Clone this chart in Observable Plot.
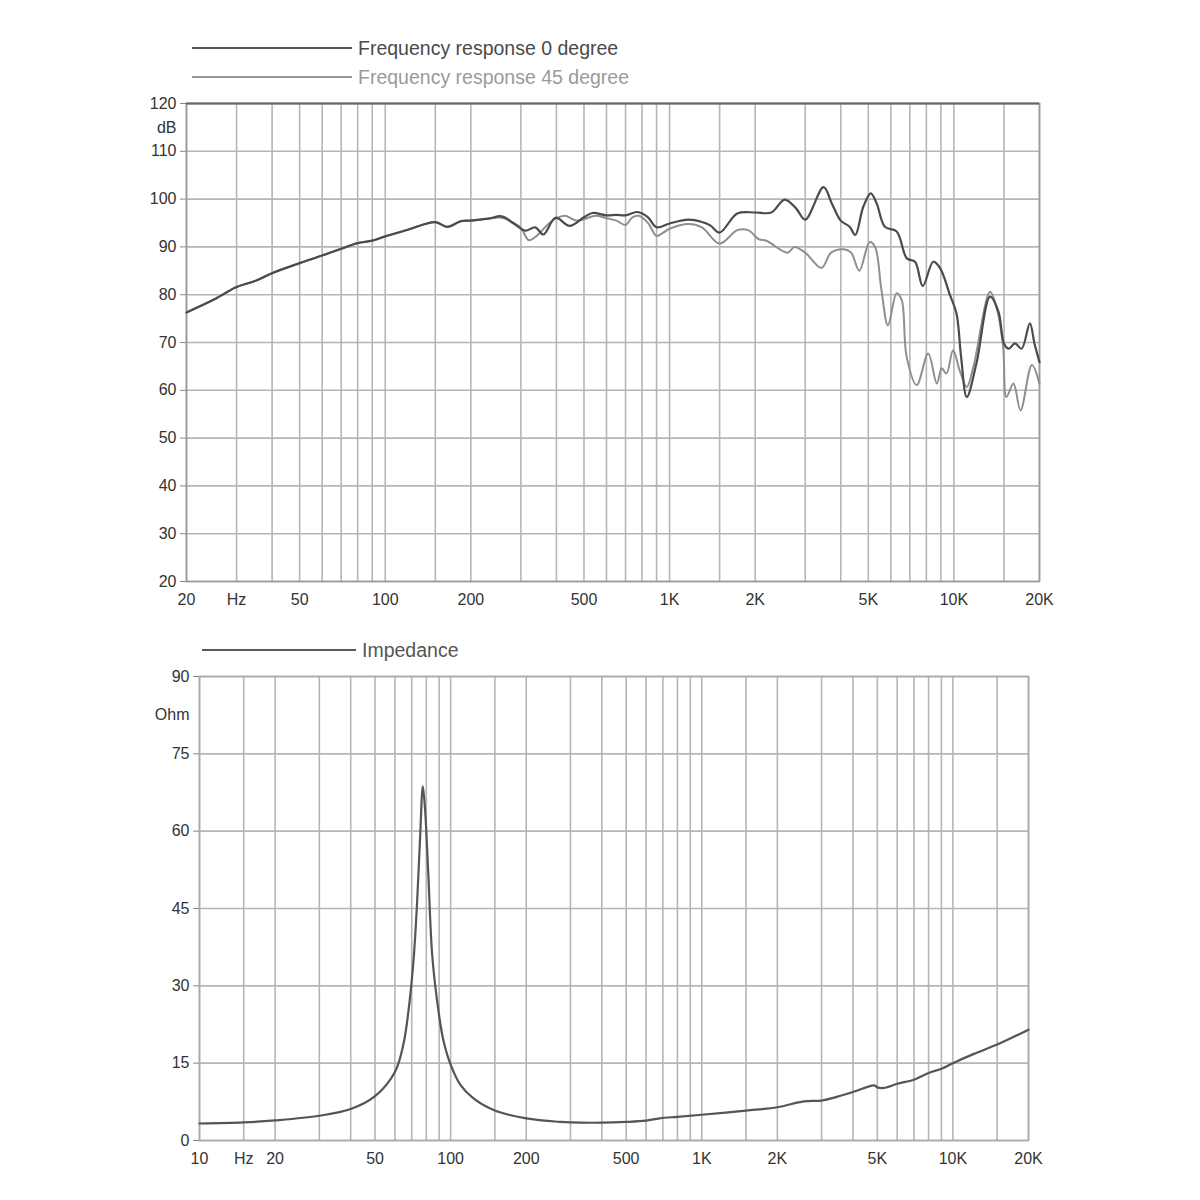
<!DOCTYPE html>
<html>
<head>
<meta charset="utf-8">
<script src="https://cdn.jsdelivr.net/npm/d3@7"></script>
<script src="https://cdn.jsdelivr.net/npm/@observablehq/plot@0.6"></script>
<style>
  html, body { margin: 0; padding: 0; background: #fff; }
  body { font-family: "Liberation Sans", Arial, Helvetica, sans-serif; }
  #page { position: relative; width: 1200px; height: 1200px; overflow: hidden; }
  .legend { position: absolute; display: flex; align-items: center; height: 24px; font-size: 19.5px; white-space: nowrap; }
  .legend .sw { display: inline-block; height: 0; border-top: 2.6px solid; margin-right: 6px; }
  .chart { position: absolute; left: 0; }
</style>
</head>
<body>
<div id="page">
  <div class="legend" style="left:192px; top:36px; color:#4a4a4a;"><span class="sw" style="width:160px; border-color:#555;"></span>Frequency response 0 degree</div>
  <div class="legend" style="left:192px; top:65px; color:#9a9a9a;"><span class="sw" style="width:160px; border-color:#999;"></span>Frequency response 45 degree</div>
  <div class="chart" id="top" style="top:95px;"></div>
  <div class="legend" style="left:202px; top:638px; color:#555;"><span class="sw" style="width:154px; border-color:#5a5a5a;"></span>Impedance</div>
  <div class="chart" id="bottom" style="top:668px;"></div>
</div>
<script>
// ---------- Frequency response data ----------
const freq0 = [20,25,30,35,40,50,60,70,80,90,100,120,150,165,185,200,230,257,283,311,337,360,397,445,500,535,600,650,700,770,840,900,1000,1165,1300,1390,1500,1730,2000,2280,2540,2790,3000,3480,3720,4000,4300,4500,4800,5100,5350,5720,6290,6830,7300,7770,8460,8950,9690,10210,10600,11100,12000,13400,14350,15000,15600,16400,17300,18500,19200,20000];
const db0 = [76.3,79.0,81.6,82.9,84.5,86.6,88.2,89.6,90.8,91.3,92.2,93.6,95.2,94.2,95.4,95.5,95.9,96.4,94.9,93.4,94.1,92.6,96.1,94.4,96.2,97.1,96.6,96.7,96.6,97.3,96.2,94.1,94.9,95.7,95.2,94.5,93.0,97.0,97.2,97.2,99.9,98.0,95.7,102.5,99.1,95.5,94.2,92.5,98.4,101.2,99.1,94.2,93.2,87.6,86.9,81.8,86.9,85.5,79.9,76.1,67.0,58.6,65.6,79.6,76.4,69.8,68.7,69.8,68.7,74.0,69.8,65.9];

const freq45 = [20,25,30,35,40,50,60,70,80,90,100,120,150,165,185,200,230,257,283,300,320,341,370,400,430,470,500,550,600,650,700,740,780,840,900,950,1000,1165,1300,1500,1730,1890,2060,2190,2600,2750,3000,3420,3700,4100,4350,4650,5050,5280,5560,5860,6290,6550,6820,7400,8120,8710,9060,9420,9930,10500,11100,11710,13400,14100,14900,15300,16200,17150,18800,20000];
const db45 = [76.3,79.0,81.6,82.9,84.5,86.6,88.2,89.6,90.8,91.3,92.2,93.6,95.2,94.2,95.4,95.5,95.9,96.1,95.0,94.0,91.4,92.3,94.5,96.0,96.5,95.5,95.8,96.5,96.0,95.5,94.6,96.2,96.5,95.0,92.3,93.0,93.8,94.8,94.1,90.7,93.5,93.5,91.6,91.3,88.8,90.0,88.8,85.6,88.8,89.5,88.8,85.0,91.0,90.0,81.0,73.6,80.3,78.9,67.0,61.1,67.7,61.4,64.6,63.5,68.4,64.0,60.7,64.9,80.6,77.5,69.1,58.6,61.4,55.8,65.3,61.4];

// ---------- Impedance data ----------
const freqZ = [10,15,20,30,40,50,60,65,68.6,71.3,73.4,75.6,77.5,79.1,81.4,84.6,90,93.5,100,109,123,150,200,274,300,400,500,600,680,800,1000,1500,2000,2550,3000,3470,4000,4870,5000,5320,6000,7000,8000,9000,10000,12130,15000,20000];
const ohmZ = [3.3,3.5,3.9,4.8,6.1,8.6,13.3,18.9,26.9,35.5,45.5,58.9,68.7,64.2,52.2,35.5,24.2,19.5,14.7,10.9,8.2,5.8,4.3,3.6,3.5,3.45,3.6,3.85,4.3,4.6,5.0,5.8,6.45,7.6,7.75,8.5,9.4,10.7,10.3,10.2,11.0,11.8,13.1,13.9,15.0,16.8,18.6,21.5];

// ---------- Axis / grid definitions ----------
const topGridX = [20,30,40,50,60,70,80,90,100,150,200,300,400,500,600,700,800,900,1000,1500,2000,3000,4000,5000,6000,7000,8000,9000,10000,15000,20000];
const topTickX = [20,30,50,100,200,500,1000,2000,5000,10000,20000];
const topTickXLabels = ["20","Hz","50","100","200","500","1K","2K","5K","10K","20K"];
const topTickY = [20,30,40,50,60,70,80,90,100,110,120];
const topUnitY = [115];
const topUnitLabel = "dB";

const botGridX = [10,15,20,30,40,50,60,70,80,90,100,150,200,300,400,500,600,700,800,900,1000,1500,2000,3000,4000,5000,6000,7000,8000,9000,10000,15000,20000];
const botTickX = [10,15,20,50,100,200,500,1000,2000,5000,10000,20000];
const botTickXLabels = ["10","Hz","20","50","100","200","500","1K","2K","5K","10K","20K"];
const botTickY = [0,15,30,45,60,75,90];
const botUnitY = [82.5];
const botUnitLabel = "Ohm";

const series0 = freq0.map((f, i) => ({f, v: db0[i]}));
const series45 = freq45.map((f, i) => ({f, v: db45[i]}));
const seriesZ = freqZ.map((f, i) => ({f, v: ohmZ[i]}));
const topXLabelData = topTickX.map((f, i) => ({f, label: topTickXLabels[i]}));
const botXLabelData = botTickX.map((f, i) => ({f, label: botTickXLabels[i]}));

const FONT = '"Liberation Sans", Arial, Helvetica, sans-serif';
const GRID = "#b5b5b5";

const topChart = Plot.plot({
  width: 1200, height: 516,
  marginLeft: 186, marginRight: 161, marginTop: 8, marginBottom: 30,
  x: {type: "log", domain: [20, 20000], axis: null},
  y: {domain: [20, 120]},
  style: {fontFamily: FONT, fontSize: "16px", color: "#333", background: "transparent", overflow: "visible"},
  marks: [
    Plot.ruleX(topGridX, {stroke: GRID, strokeWidth: 1.6}),
    Plot.ruleY(topTickY, {stroke: GRID, strokeWidth: 1.6}),
    Plot.frame({stroke: "#9a9a9a", strokeWidth: 1.6}),
    Plot.ruleY([120], {stroke: "#666", strokeWidth: 2}),
    Plot.line(series45, {x: "f", y: "v", stroke: "#8f8f8f", strokeWidth: 2, curve: "catmull-rom"}),
    Plot.line(series0, {x: "f", y: "v", stroke: "#4b4b4b", strokeWidth: 2.2, curve: "catmull-rom"}),
    Plot.text(topXLabelData, {x: "f", text: "label", frameAnchor: "bottom", dy: 23, fontSize: 16, fill: "#333"}),
    Plot.axisY({ticks: topTickY, tickFormat: d => String(d), tickSize: 6, tickPadding: 4, label: null, stroke: "#888"}),
    Plot.axisY({ticks: topUnitY, tickFormat: () => topUnitLabel, tickSize: 0, tickPadding: 10, label: null})
  ]
});
document.getElementById("top").appendChild(topChart);

const botChart = Plot.plot({
  width: 1200, height: 502,
  marginLeft: 199, marginRight: 172, marginTop: 8, marginBottom: 30,
  x: {type: "log", domain: [10, 20000], axis: null},
  y: {domain: [0, 90]},
  style: {fontFamily: FONT, fontSize: "16px", color: "#333", background: "transparent", overflow: "visible"},
  marks: [
    Plot.ruleX(botGridX, {stroke: GRID, strokeWidth: 1.6}),
    Plot.ruleY(botTickY, {stroke: GRID, strokeWidth: 1.6}),
    Plot.frame({stroke: "#aaa", strokeWidth: 1.6}),
    Plot.line(seriesZ, {x: "f", y: "v", stroke: "#555", strokeWidth: 2.2, curve: "catmull-rom"}),
    Plot.text(botXLabelData, {x: "f", text: "label", frameAnchor: "bottom", dy: 23, fontSize: 16, fill: "#333"}),
    Plot.axisY({ticks: botTickY, tickFormat: d => String(d), tickSize: 6, tickPadding: 4, label: null, stroke: "#888"}),
    Plot.axisY({ticks: botUnitY, tickFormat: () => botUnitLabel, tickSize: 0, tickPadding: 10, label: null})
  ]
});
document.getElementById("bottom").appendChild(botChart);
</script>
</body>
</html>
